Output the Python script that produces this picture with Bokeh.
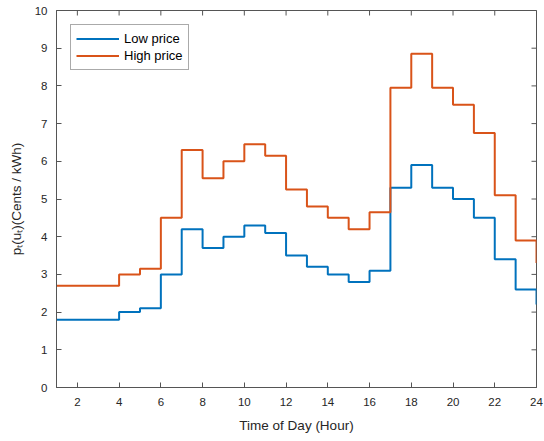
import math
from bokeh.plotting import figure
from bokeh.models import Range1d, FixedTicker, Legend, LegendItem
from bokeh.embed import file_html
from bokeh.resources import INLINE

hours = list(range(1, 25))
low_price = [1.8, 1.8, 1.8, 2.0, 2.1, 3.0, 4.2, 3.7, 4.0, 4.3, 4.1, 3.5,
             3.2, 3.0, 2.8, 3.1, 5.3, 5.9, 5.3, 5.0, 4.5, 3.4, 2.6, 2.2]
high_price = [2.7, 2.7, 2.7, 3.0, 3.15, 4.5, 6.3, 5.55, 6.0, 6.45, 6.15, 5.25,
              4.8, 4.5, 4.2, 4.65, 7.95, 8.85, 7.95, 7.5, 6.75, 5.1, 3.9, 3.3]
x_ticks = list(range(2, 25, 2))
y_ticks = list(range(0, 11))
x_min, x_max = 1, 24
y_min, y_max = 0, 10

FONT = "Liberation Sans"
TXT = "#262626"
AX = "#555555"

p = figure(width=544, height=441, output_backend="svg", toolbar_location=None,
           x_range=Range1d(x_min, x_max), y_range=Range1d(y_min, y_max),
           min_border_left=56, min_border_right=8, min_border_top=10, min_border_bottom=54)
p.outline_line_color = AX
p.xgrid.visible = False
p.ygrid.visible = False

r_low = p.step(hours, low_price, mode="after", line_color="#0072BD", line_width=2)
r_high = p.step(hours, high_price, mode="after", line_color="#D95319", line_width=2)

# mirrored inward ticks on the top and right edges (half of each dash is clipped by the frame)
p.scatter(x_ticks, [y_max] * len(x_ticks), marker="dash", size=10, angle=math.pi / 2,
          line_color=AX, line_width=1)
p.scatter([x_max] * len(y_ticks), y_ticks, marker="dash", size=10,
          line_color=AX, line_width=1)

for ax, ticks in ((p.xaxis[0], x_ticks), (p.yaxis[0], y_ticks)):
    ax.ticker = FixedTicker(ticks=ticks)
    ax.major_tick_in = 5
    ax.major_tick_out = 0
    ax.minor_tick_line_color = None
    ax.axis_line_color = AX
    ax.major_tick_line_color = AX
    ax.major_label_text_font = FONT
    ax.major_label_text_color = TXT
    ax.major_label_text_font_size = "11.5px"
    ax.axis_label_text_font = FONT
    ax.axis_label_text_color = TXT
    ax.axis_label_text_font_size = "13.5px"
    ax.axis_label_text_font_style = "normal"

p.xaxis[0].axis_label = "Time of Day (Hour)"
p.xaxis[0].major_label_standoff = 10
p.xaxis[0].axis_label_standoff = 9
p.yaxis[0].axis_label = "pₜ(uₜ)(Cents / kWh)"
p.yaxis[0].major_label_standoff = 9
p.yaxis[0].axis_label_standoff = 8

legend = Legend(items=[LegendItem(label="Low price", renderers=[r_low]),
                       LegendItem(label="High price", renderers=[r_high])],
                location="top_left")
legend.margin = 14
legend.padding = 5
legend.spacing = 0
legend.glyph_width = 43
legend.glyph_height = 17
legend.label_height = 17
legend.label_standoff = 5
legend.label_text_font = FONT
legend.label_text_font_size = "13px"
legend.label_text_color = "black"
legend.border_line_color = AX
legend.border_line_width = 1
legend.background_fill_color = "white"
legend.background_fill_alpha = 1
p.add_layout(legend, "center")

open("out.html", "w").write(file_html(p, INLINE))
